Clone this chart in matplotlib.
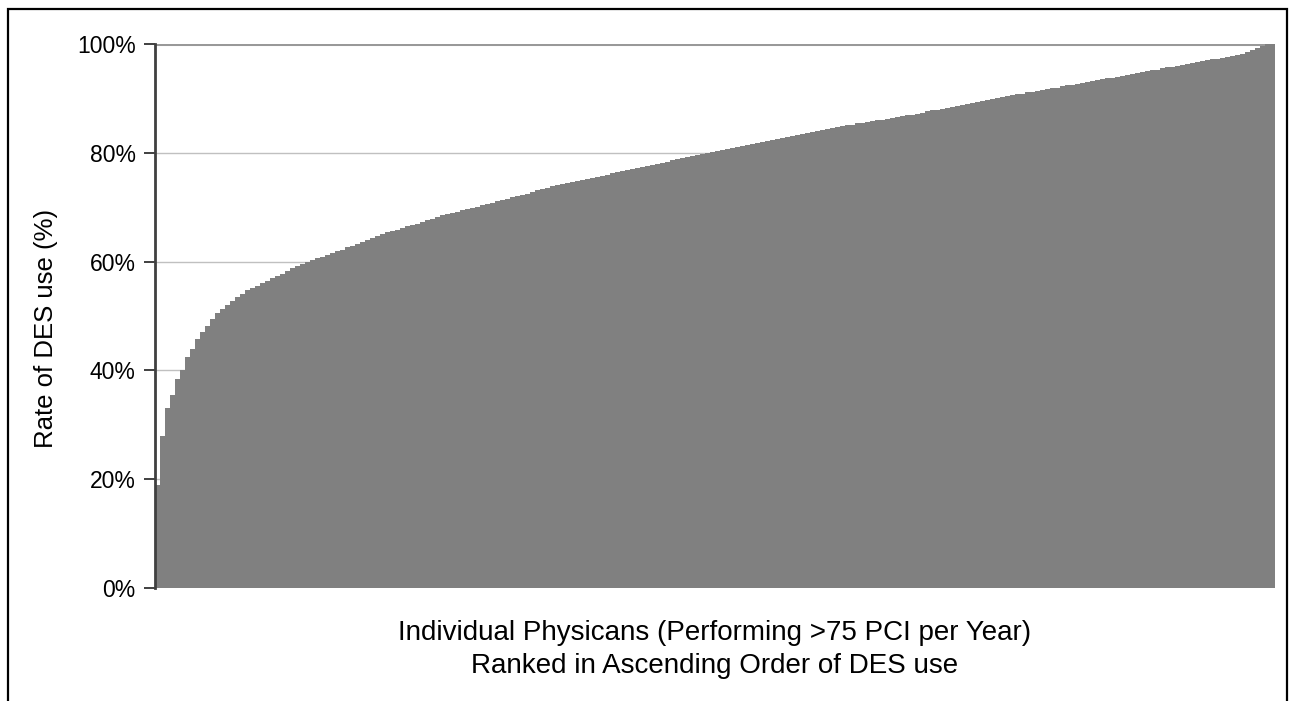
import matplotlib
matplotlib.use('Agg')
import matplotlib.pyplot as plt
from matplotlib.patches import Rectangle
from matplotlib.ticker import PercentFormatter

plt.rcParams['font.family'] = ['Liberation Sans', 'DejaVu Sans']

# DES use rate per physician, ranked ascending
des_rate = [
    19, 28, 33, 35.5, 38.5, 40, 42.5, 44, 45.8, 47,
    48.2, 49.4, 50.5, 51.3, 52, 52.8, 53.5, 54.1, 54.7, 55.2,
    55.6, 56, 56.4, 56.9, 57.3, 57.8, 58.3, 58.8, 59.2, 59.6,
    59.9, 60.3, 60.6, 60.9, 61.2, 61.5, 61.9, 62.2, 62.6, 62.9,
    63.3, 63.6, 64.0, 64.3, 64.7, 65.0, 65.4, 65.7, 65.9, 66.2,
    66.5, 66.8, 67.0, 67.3, 67.6, 67.9, 68.2, 68.5, 68.7, 69.0,
    69.2, 69.4, 69.7, 69.9, 70.1, 70.4, 70.6, 70.8, 71.1, 71.3,
    71.5, 71.8, 72.0, 72.2, 72.5, 72.8, 73.1, 73.3, 73.6, 73.9,
    74.1, 74.3, 74.5, 74.7, 74.9, 75.0, 75.2, 75.4, 75.6, 75.8,
    76.0, 76.2, 76.4, 76.6, 76.8, 77.0, 77.2, 77.4, 77.6, 77.8,
    78.0, 78.2, 78.4, 78.6, 78.8, 79.0, 79.2, 79.4, 79.6, 79.8,
    80.0, 80.2, 80.4, 80.6, 80.7, 80.9, 81.1, 81.3, 81.5, 81.6,
    81.8, 82.0, 82.2, 82.4, 82.5, 82.7, 82.9, 83.1, 83.3, 83.4,
    83.6, 83.8, 84.0, 84.2, 84.4, 84.5, 84.7, 84.9, 85.1, 85.2,
    85.4, 85.5, 85.7, 85.8, 86.0, 86.1, 86.3, 86.4, 86.6, 86.7,
    86.9, 87.0, 87.2, 87.4, 87.6, 87.8, 87.9, 88.1, 88.3, 88.5,
    88.6, 88.8, 89.0, 89.2, 89.3, 89.5, 89.7, 89.9, 90.0, 90.2,
    90.4, 90.6, 90.8, 90.9, 91.1, 91.2, 91.4, 91.6, 91.7, 91.9,
    92.0, 92.2, 92.4, 92.5, 92.7, 92.9, 93.0, 93.2, 93.3, 93.5,
    93.7, 93.8, 94.0, 94.2, 94.3, 94.5, 94.7, 94.8, 95.0, 95.2,
    95.3, 95.5, 95.7, 95.8, 96.0, 96.2, 96.3, 96.5, 96.7, 96.8,
    97.0, 97.2, 97.3, 97.5, 97.6, 97.8, 98.0, 98.1, 98.5, 98.9,
    99.3, 99.7, 100, 100,
]
y_ticks = [0, 20, 40, 60, 80, 100]

fig = plt.figure(figsize=(12.93, 7.01), dpi=100)
ax = fig.add_axes([155/1293, 1-588/701, 1120/1293, 544/701])

n = len(des_rate)
ax.bar(range(n), des_rate, width=1.0, color='#808080', linewidth=0, zorder=2)
ax.set_xlim(-0.5, n-0.5)
ax.set_ylim(0, 100)

ax.set_yticks(y_ticks)
ax.yaxis.set_major_formatter(PercentFormatter(decimals=0))
ax.tick_params(axis='y', labelsize=16.5, length=8, width=1.2, color='#202020', pad=6)
ax.set_xticks([])

for t in y_ticks[1:-1]:
    ax.axhline(t, color='#c0c0c0', lw=1, zorder=1)
ax.axhline(100, color='#999999', lw=2.2, zorder=1)

for s in ['top', 'right', 'bottom']:
    ax.spines[s].set_visible(False)
ax.spines['left'].set_color('#404040')
ax.spines['left'].set_linewidth(2)
ax.spines['left'].set_zorder(3)

ax.set_ylabel('Rate of DES use (%)', fontsize=18.5)
ax.yaxis.set_label_coords(-0.087, 0.478)
ax.set_xlabel('Individual Physicans (Performing >75 PCI per Year)\nRanked in Ascending Order of DES use',
              fontsize=20, labelpad=23, linespacing=1.35)

fig.patches.append(Rectangle((8/1293, -0.1), 1279/1293, 1.1-9/701, transform=fig.transFigure,
                             fill=False, edgecolor='black', lw=1.6))

fig.savefig('out.png', dpi=100)
